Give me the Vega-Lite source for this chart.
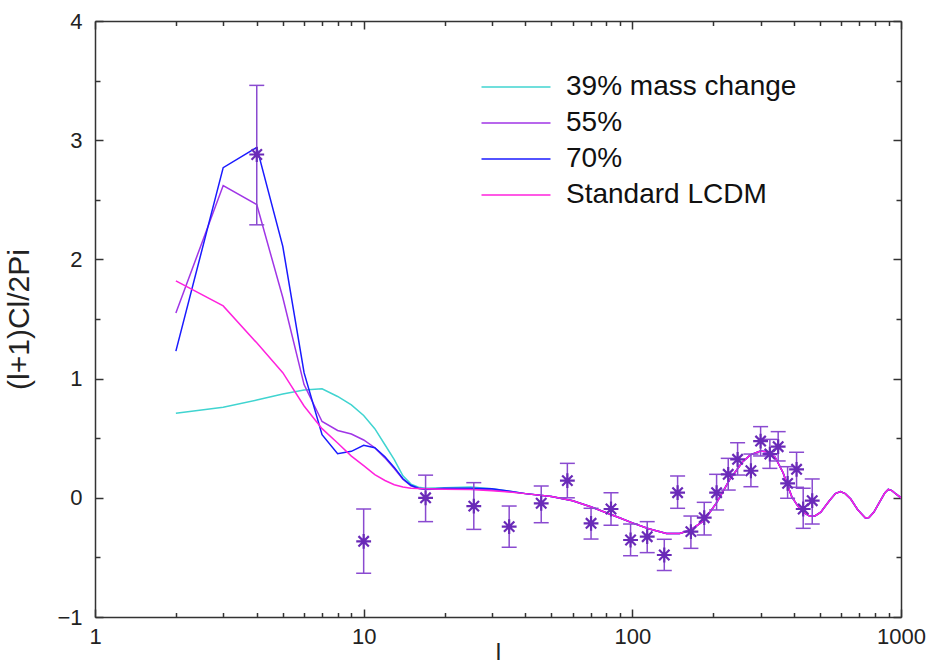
{
  "$schema": "https://vega.github.io/schema/vega-lite/v6.json",
  "width": 806,
  "height": 596,
  "autosize": {"type": "none"},
  "padding": {"left": 95, "top": 21, "right": 27, "bottom": 50},
  "background": "white",
  "config": {
    "view": {"stroke": null},
    "axis": {"grid": false, "labelFlush": false, "domainColor": "#333333", "domainWidth": 1.5, "tickColor": "#333333", "tickWidth": 1.5, "labelFont": "Liberation Sans", "labelFontSize": 22, "labelColor": "#222222", "titleFont": "Liberation Sans", "titleFontWeight": "normal", "titleColor": "#222222"}
  },
  "datasets": {
    "curves": [
      {"l": 2, "v": 0.71, "s": "39% mass change"}, {"l": 3, "v": 0.76, "s": "39% mass change"}, {"l": 4, "v": 0.82, "s": "39% mass change"}, {"l": 5, "v": 0.87, "s": "39% mass change"}, {"l": 6, "v": 0.905, "s": "39% mass change"}, {"l": 7, "v": 0.915, "s": "39% mass change"}, {"l": 8, "v": 0.85, "s": "39% mass change"}, {"l": 9, "v": 0.78, "s": "39% mass change"}, {"l": 10, "v": 0.69, "s": "39% mass change"}, {"l": 11, "v": 0.58, "s": "39% mass change"}, {"l": 12, "v": 0.445, "s": "39% mass change"}, {"l": 13, "v": 0.32, "s": "39% mass change"}, {"l": 14, "v": 0.185, "s": "39% mass change"}, {"l": 15, "v": 0.115, "s": "39% mass change"}, {"l": 16, "v": 0.088, "s": "39% mass change"}, {"l": 17, "v": 0.08, "s": "39% mass change"}, {"l": 20, "v": 0.085, "s": "39% mass change"}, {"l": 25, "v": 0.09, "s": "39% mass change"}, {"l": 30, "v": 0.075, "s": "39% mass change"}, {"l": 35, "v": 0.055, "s": "39% mass change"},
      {"l": 40, "v": 0.035, "s": "39% mass change"}, {"l": 50, "v": 0.01, "s": "39% mass change"}, {"l": 60, "v": -0.025, "s": "39% mass change"}, {"l": 70, "v": -0.075, "s": "39% mass change"}, {"l": 80, "v": -0.125, "s": "39% mass change"}, {"l": 90, "v": -0.17, "s": "39% mass change"}, {"l": 100, "v": -0.21, "s": "39% mass change"}, {"l": 115, "v": -0.26, "s": "39% mass change"}, {"l": 134, "v": -0.3, "s": "39% mass change"}, {"l": 150, "v": -0.3, "s": "39% mass change"}, {"l": 165, "v": -0.27, "s": "39% mass change"}, {"l": 185, "v": -0.19, "s": "39% mass change"}, {"l": 206, "v": -0.04, "s": "39% mass change"}, {"l": 230, "v": 0.15, "s": "39% mass change"}, {"l": 257, "v": 0.3, "s": "39% mass change"}, {"l": 275, "v": 0.36, "s": "39% mass change"}, {"l": 300, "v": 0.393, "s": "39% mass change"}, {"l": 320, "v": 0.385, "s": "39% mass change"}, {"l": 340, "v": 0.34, "s": "39% mass change"}, {"l": 364, "v": 0.21, "s": "39% mass change"}, {"l": 392, "v": 0.01, "s": "39% mass change"}, {"l": 412, "v": -0.065, "s": "39% mass change"}, {"l": 432, "v": -0.12, "s": "39% mass change"}, {"l": 458, "v": -0.155, "s": "39% mass change"}, {"l": 480, "v": -0.15, "s": "39% mass change"}, {"l": 503, "v": -0.12, "s": "39% mass change"}, {"l": 543, "v": -0.02, "s": "39% mass change"}, {"l": 570, "v": 0.035, "s": "39% mass change"}, {"l": 595, "v": 0.052, "s": "39% mass change"}, {"l": 620, "v": 0.035, "s": "39% mass change"}, {"l": 650, "v": -0.01, "s": "39% mass change"}, {"l": 690, "v": -0.1, "s": "39% mass change"}, {"l": 737, "v": -0.17, "s": "39% mass change"}, {"l": 760, "v": -0.165, "s": "39% mass change"}, {"l": 793, "v": -0.12, "s": "39% mass change"}, {"l": 830, "v": -0.04, "s": "39% mass change"}, {"l": 870, "v": 0.04, "s": "39% mass change"}, {"l": 897, "v": 0.07, "s": "39% mass change"}, {"l": 925, "v": 0.06, "s": "39% mass change"}, {"l": 960, "v": 0.03, "s": "39% mass change"}, {"l": 1000, "v": 0.0, "s": "39% mass change"},

      {"l": 2, "v": 1.55, "s": "55%"}, {"l": 3, "v": 2.62, "s": "55%"}, {"l": 4, "v": 2.46, "s": "55%"}, {"l": 5, "v": 1.68, "s": "55%"}, {"l": 6, "v": 0.95, "s": "55%"}, {"l": 7, "v": 0.64, "s": "55%"}, {"l": 8, "v": 0.565, "s": "55%"}, {"l": 9, "v": 0.535, "s": "55%"}, {"l": 10, "v": 0.485, "s": "55%"}, {"l": 11, "v": 0.42, "s": "55%"}, {"l": 12, "v": 0.335, "s": "55%"}, {"l": 13, "v": 0.245, "s": "55%"}, {"l": 14, "v": 0.155, "s": "55%"}, {"l": 15, "v": 0.1, "s": "55%"}, {"l": 16, "v": 0.078, "s": "55%"}, {"l": 17, "v": 0.07, "s": "55%"}, {"l": 20, "v": 0.075, "s": "55%"}, {"l": 25, "v": 0.075, "s": "55%"}, {"l": 30, "v": 0.065, "s": "55%"}, {"l": 35, "v": 0.05, "s": "55%"},
      {"l": 40, "v": 0.035, "s": "55%"}, {"l": 50, "v": 0.01, "s": "55%"}, {"l": 60, "v": -0.025, "s": "55%"}, {"l": 70, "v": -0.075, "s": "55%"}, {"l": 80, "v": -0.125, "s": "55%"}, {"l": 90, "v": -0.17, "s": "55%"}, {"l": 100, "v": -0.21, "s": "55%"}, {"l": 115, "v": -0.26, "s": "55%"}, {"l": 134, "v": -0.3, "s": "55%"}, {"l": 150, "v": -0.3, "s": "55%"}, {"l": 165, "v": -0.27, "s": "55%"}, {"l": 185, "v": -0.19, "s": "55%"}, {"l": 206, "v": -0.04, "s": "55%"}, {"l": 230, "v": 0.15, "s": "55%"}, {"l": 257, "v": 0.3, "s": "55%"}, {"l": 275, "v": 0.36, "s": "55%"}, {"l": 300, "v": 0.393, "s": "55%"}, {"l": 320, "v": 0.385, "s": "55%"}, {"l": 340, "v": 0.34, "s": "55%"}, {"l": 364, "v": 0.21, "s": "55%"}, {"l": 392, "v": 0.01, "s": "55%"}, {"l": 412, "v": -0.065, "s": "55%"}, {"l": 432, "v": -0.12, "s": "55%"}, {"l": 458, "v": -0.155, "s": "55%"}, {"l": 480, "v": -0.15, "s": "55%"}, {"l": 503, "v": -0.12, "s": "55%"}, {"l": 543, "v": -0.02, "s": "55%"}, {"l": 570, "v": 0.035, "s": "55%"}, {"l": 595, "v": 0.052, "s": "55%"}, {"l": 620, "v": 0.035, "s": "55%"}, {"l": 650, "v": -0.01, "s": "55%"}, {"l": 690, "v": -0.1, "s": "55%"}, {"l": 737, "v": -0.17, "s": "55%"}, {"l": 760, "v": -0.165, "s": "55%"}, {"l": 793, "v": -0.12, "s": "55%"}, {"l": 830, "v": -0.04, "s": "55%"}, {"l": 870, "v": 0.04, "s": "55%"}, {"l": 897, "v": 0.07, "s": "55%"}, {"l": 925, "v": 0.06, "s": "55%"}, {"l": 960, "v": 0.03, "s": "55%"}, {"l": 1000, "v": 0.0, "s": "55%"},

      {"l": 2, "v": 1.23, "s": "70%"}, {"l": 3, "v": 2.77, "s": "70%"}, {"l": 4, "v": 2.94, "s": "70%"}, {"l": 5, "v": 2.11, "s": "70%"}, {"l": 6, "v": 1.05, "s": "70%"}, {"l": 7, "v": 0.53, "s": "70%"}, {"l": 8, "v": 0.37, "s": "70%"}, {"l": 9, "v": 0.39, "s": "70%"}, {"l": 10, "v": 0.44, "s": "70%"}, {"l": 11, "v": 0.42, "s": "70%"}, {"l": 12, "v": 0.345, "s": "70%"}, {"l": 13, "v": 0.255, "s": "70%"}, {"l": 14, "v": 0.16, "s": "70%"}, {"l": 15, "v": 0.105, "s": "70%"}, {"l": 16, "v": 0.08, "s": "70%"}, {"l": 17, "v": 0.072, "s": "70%"}, {"l": 20, "v": 0.08, "s": "70%"}, {"l": 25, "v": 0.08, "s": "70%"}, {"l": 30, "v": 0.075, "s": "70%"}, {"l": 35, "v": 0.055, "s": "70%"},
      {"l": 40, "v": 0.035, "s": "70%"}, {"l": 50, "v": 0.01, "s": "70%"}, {"l": 60, "v": -0.025, "s": "70%"}, {"l": 70, "v": -0.075, "s": "70%"}, {"l": 80, "v": -0.125, "s": "70%"}, {"l": 90, "v": -0.17, "s": "70%"}, {"l": 100, "v": -0.21, "s": "70%"}, {"l": 115, "v": -0.26, "s": "70%"}, {"l": 134, "v": -0.3, "s": "70%"}, {"l": 150, "v": -0.3, "s": "70%"}, {"l": 165, "v": -0.27, "s": "70%"}, {"l": 185, "v": -0.19, "s": "70%"}, {"l": 206, "v": -0.04, "s": "70%"}, {"l": 230, "v": 0.15, "s": "70%"}, {"l": 257, "v": 0.3, "s": "70%"}, {"l": 275, "v": 0.36, "s": "70%"}, {"l": 300, "v": 0.393, "s": "70%"}, {"l": 320, "v": 0.385, "s": "70%"}, {"l": 340, "v": 0.34, "s": "70%"}, {"l": 364, "v": 0.21, "s": "70%"}, {"l": 392, "v": 0.01, "s": "70%"}, {"l": 412, "v": -0.065, "s": "70%"}, {"l": 432, "v": -0.12, "s": "70%"}, {"l": 458, "v": -0.155, "s": "70%"}, {"l": 480, "v": -0.15, "s": "70%"}, {"l": 503, "v": -0.12, "s": "70%"}, {"l": 543, "v": -0.02, "s": "70%"}, {"l": 570, "v": 0.035, "s": "70%"}, {"l": 595, "v": 0.052, "s": "70%"}, {"l": 620, "v": 0.035, "s": "70%"}, {"l": 650, "v": -0.01, "s": "70%"}, {"l": 690, "v": -0.1, "s": "70%"}, {"l": 737, "v": -0.17, "s": "70%"}, {"l": 760, "v": -0.165, "s": "70%"}, {"l": 793, "v": -0.12, "s": "70%"}, {"l": 830, "v": -0.04, "s": "70%"}, {"l": 870, "v": 0.04, "s": "70%"}, {"l": 897, "v": 0.07, "s": "70%"}, {"l": 925, "v": 0.06, "s": "70%"}, {"l": 960, "v": 0.03, "s": "70%"}, {"l": 1000, "v": 0.0, "s": "70%"},

      {"l": 2, "v": 1.82, "s": "Standard LCDM"}, {"l": 3, "v": 1.61, "s": "Standard LCDM"}, {"l": 4, "v": 1.3, "s": "Standard LCDM"}, {"l": 5, "v": 1.05, "s": "Standard LCDM"}, {"l": 6, "v": 0.77, "s": "Standard LCDM"}, {"l": 7, "v": 0.58, "s": "Standard LCDM"}, {"l": 8, "v": 0.46, "s": "Standard LCDM"}, {"l": 9, "v": 0.35, "s": "Standard LCDM"}, {"l": 10, "v": 0.27, "s": "Standard LCDM"}, {"l": 11, "v": 0.195, "s": "Standard LCDM"}, {"l": 12, "v": 0.145, "s": "Standard LCDM"}, {"l": 13, "v": 0.11, "s": "Standard LCDM"}, {"l": 14, "v": 0.09, "s": "Standard LCDM"}, {"l": 15, "v": 0.08, "s": "Standard LCDM"}, {"l": 17, "v": 0.075, "s": "Standard LCDM"}, {"l": 20, "v": 0.072, "s": "Standard LCDM"}, {"l": 25, "v": 0.07, "s": "Standard LCDM"}, {"l": 30, "v": 0.06, "s": "Standard LCDM"}, {"l": 35, "v": 0.048, "s": "Standard LCDM"},
      {"l": 40, "v": 0.035, "s": "Standard LCDM"}, {"l": 50, "v": 0.01, "s": "Standard LCDM"}, {"l": 60, "v": -0.025, "s": "Standard LCDM"}, {"l": 70, "v": -0.075, "s": "Standard LCDM"}, {"l": 80, "v": -0.125, "s": "Standard LCDM"}, {"l": 90, "v": -0.17, "s": "Standard LCDM"}, {"l": 100, "v": -0.21, "s": "Standard LCDM"}, {"l": 115, "v": -0.26, "s": "Standard LCDM"}, {"l": 134, "v": -0.3, "s": "Standard LCDM"}, {"l": 150, "v": -0.3, "s": "Standard LCDM"}, {"l": 165, "v": -0.27, "s": "Standard LCDM"}, {"l": 185, "v": -0.19, "s": "Standard LCDM"}, {"l": 206, "v": -0.04, "s": "Standard LCDM"}, {"l": 230, "v": 0.15, "s": "Standard LCDM"}, {"l": 257, "v": 0.3, "s": "Standard LCDM"}, {"l": 275, "v": 0.36, "s": "Standard LCDM"}, {"l": 300, "v": 0.393, "s": "Standard LCDM"}, {"l": 320, "v": 0.385, "s": "Standard LCDM"}, {"l": 340, "v": 0.34, "s": "Standard LCDM"}, {"l": 364, "v": 0.21, "s": "Standard LCDM"}, {"l": 392, "v": 0.01, "s": "Standard LCDM"}, {"l": 412, "v": -0.065, "s": "Standard LCDM"}, {"l": 432, "v": -0.12, "s": "Standard LCDM"}, {"l": 458, "v": -0.155, "s": "Standard LCDM"}, {"l": 480, "v": -0.15, "s": "Standard LCDM"}, {"l": 503, "v": -0.12, "s": "Standard LCDM"}, {"l": 543, "v": -0.02, "s": "Standard LCDM"}, {"l": 570, "v": 0.035, "s": "Standard LCDM"}, {"l": 595, "v": 0.052, "s": "Standard LCDM"}, {"l": 620, "v": 0.035, "s": "Standard LCDM"}, {"l": 650, "v": -0.01, "s": "Standard LCDM"}, {"l": 690, "v": -0.1, "s": "Standard LCDM"}, {"l": 737, "v": -0.17, "s": "Standard LCDM"}, {"l": 760, "v": -0.165, "s": "Standard LCDM"}, {"l": 793, "v": -0.12, "s": "Standard LCDM"}, {"l": 830, "v": -0.04, "s": "Standard LCDM"}, {"l": 870, "v": 0.04, "s": "Standard LCDM"}, {"l": 897, "v": 0.07, "s": "Standard LCDM"}, {"l": 925, "v": 0.06, "s": "Standard LCDM"}, {"l": 960, "v": 0.03, "s": "Standard LCDM"}, {"l": 1000, "v": 0.0, "s": "Standard LCDM"}
    ],
    "obs": [
      {"l": 4, "v": 2.88, "lo": 2.29, "hi": 3.46},
      {"l": 10, "v": -0.365, "lo": -0.633, "hi": -0.094},
      {"l": 17, "v": 0.0, "lo": -0.2, "hi": 0.19},
      {"l": 25.7, "v": -0.07, "lo": -0.265, "hi": 0.127},
      {"l": 34.8, "v": -0.242, "lo": -0.415, "hi": -0.069},
      {"l": 45.8, "v": -0.046, "lo": -0.209, "hi": 0.099},
      {"l": 57.3, "v": 0.144, "lo": 0.0, "hi": 0.289},
      {"l": 70.2, "v": -0.214, "lo": -0.346, "hi": -0.088},
      {"l": 83.3, "v": -0.094, "lo": -0.231, "hi": 0.043},
      {"l": 98.5, "v": -0.354, "lo": -0.486, "hi": -0.22},
      {"l": 113.6, "v": -0.326, "lo": -0.46, "hi": -0.2},
      {"l": 131.5, "v": -0.48, "lo": -0.61, "hi": -0.348},
      {"l": 147.4, "v": 0.043, "lo": -0.088, "hi": 0.183},
      {"l": 165.2, "v": -0.284, "lo": -0.424, "hi": -0.153},
      {"l": 185.2, "v": -0.167, "lo": -0.312, "hi": -0.038},
      {"l": 205.9, "v": 0.043, "lo": -0.102, "hi": 0.197},
      {"l": 227.5, "v": 0.197, "lo": 0.065, "hi": 0.331},
      {"l": 246.5, "v": 0.323, "lo": 0.191, "hi": 0.462},
      {"l": 276.3, "v": 0.227, "lo": 0.093, "hi": 0.367},
      {"l": 300.2, "v": 0.476, "lo": 0.351, "hi": 0.597},
      {"l": 325, "v": 0.367, "lo": 0.247, "hi": 0.49},
      {"l": 349, "v": 0.429, "lo": 0.309, "hi": 0.555},
      {"l": 378.4, "v": 0.121, "lo": -0.004, "hi": 0.261},
      {"l": 408.6, "v": 0.239, "lo": 0.088, "hi": 0.382},
      {"l": 432.5, "v": -0.094, "lo": -0.256, "hi": 0.08},
      {"l": 467.3, "v": -0.024, "lo": -0.22, "hi": 0.158}
    ]
  },
  "layer": [
    {
      "data": {"name": "curves"},
      "mark": {"type": "line", "strokeWidth": 1.5, "clip": true},
      "encoding": {
        "x": {"field": "l", "type": "quantitative", "scale": {"type": "log", "domain": [1, 1000], "nice": false},
          "axis": {"orient": "bottom", "values": [1, 10, 100, 1000], "format": "d", "tickSize": -8, "labelPadding": 17, "title": "l", "titleFontSize": 24, "titlePadding": -7}},
        "y": {"field": "v", "type": "quantitative", "scale": {"domain": [-1, 4], "nice": false, "zero": false},
          "axis": {"orient": "left", "values": [-1, 0, 1, 2, 3, 4], "format": "d", "tickSize": -8, "labelPadding": 21, "title": "(l+1)Cl/2Pi", "titleFontSize": 30, "titlePadding": 22}},
        "color": {"field": "s", "type": "nominal", "sort": null,
          "scale": {"domain": ["39% mass change", "55%", "70%", "Standard LCDM"], "range": ["#40d4d0", "#a035e6", "#1a1aff", "#ff22dd"]},
          "legend": {"orient": "none", "legendX": 403, "legendY": 48, "title": null, "symbolType": "M-2,0H2", "symbolSize": 1190, "symbolStrokeWidth": 1.5, "symbolFillColor": "transparent", "labelFont": "Liberation Sans", "labelFontSize": 28, "labelColor": "#111111", "labelLimit": 500, "labelOffset": 32, "rowPadding": 4, "padding": 0}}
      }
    },
    {
      "data": {"name": "obs"},
      "mark": {"type": "rule", "color": "#8a4ad0", "strokeWidth": 1.5},
      "encoding": {
        "x": {"field": "l", "type": "quantitative", "axis": {"orient": "bottom", "values": [2, 3, 4, 5, 6, 7, 8, 9, 20, 30, 40, 50, 60, 70, 80, 90, 200, 300, 400, 500, 600, 700, 800, 900], "labels": false, "domain": false, "tickSize": -4.5, "title": null}},
        "y": {"field": "lo", "type": "quantitative", "axis": {"orient": "left", "values": [-0.5, 0.5, 1.5, 2.5, 3.5], "labels": false, "domain": false, "tickSize": -5, "title": null}},
        "y2": {"field": "hi"}
      }
    },
    {
      "data": {"name": "obs"},
      "mark": {"type": "tick", "orient": "horizontal", "size": 15, "thickness": 1.5, "color": "#8a4ad0", "opacity": 1},
      "encoding": {
        "x": {"field": "l", "type": "quantitative", "axis": {"orient": "top", "values": [1, 10, 100, 1000], "labels": false, "tickSize": -8, "title": null}},
        "y": {"field": "lo", "type": "quantitative", "axis": {"orient": "right", "values": [-1, 0, 1, 2, 3, 4], "labels": false, "tickSize": -8, "title": null}}
      }
    },
    {
      "data": {"name": "obs"},
      "mark": {"type": "tick", "orient": "horizontal", "size": 15, "thickness": 1.5, "color": "#8a4ad0", "opacity": 1},
      "encoding": {
        "x": {"field": "l", "type": "quantitative", "axis": {"orient": "top", "values": [2, 3, 4, 5, 6, 7, 8, 9, 20, 30, 40, 50, 60, 70, 80, 90, 200, 300, 400, 500, 600, 700, 800, 900], "labels": false, "domain": false, "tickSize": -4.5, "title": null}},
        "y": {"field": "hi", "type": "quantitative", "axis": {"orient": "right", "values": [-0.5, 0.5, 1.5, 2.5, 3.5], "labels": false, "domain": false, "tickSize": -5, "title": null}}
      }
    },
    {
      "data": {"name": "obs"},
      "mark": {"type": "point", "shape": "M-1,0H1M0,-1V1M-0.7,-0.7L0.7,0.7M-0.7,0.7L0.7,-0.7", "size": 220, "filled": false, "strokeWidth": 2.2, "color": "#6a2ab8", "opacity": 1},
      "encoding": {
        "x": {"field": "l", "type": "quantitative", "axis": null},
        "y": {"field": "v", "type": "quantitative", "axis": null}
      }
    }
  ],
  "resolve": {"axis": {"x": "independent", "y": "independent"}}
}
